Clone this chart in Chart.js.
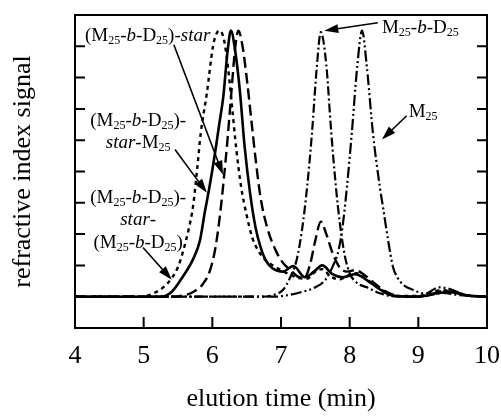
<!DOCTYPE html>
<html>
<head>
<meta charset="utf-8">
<script src="https://cdn.jsdelivr.net/npm/chart.js@4/dist/chart.umd.min.js"></script>
<style>
    body { margin: 0; background: #fff; }
    canvas { display: block; }
</style>
</head>
<body>
<canvas id="gpcChart" width="501" height="419"></canvas>
<script>
// elution time (min) and refractive index signal for each trace

// (M25-b-D25)-star  (dashed)
const starTime   = [4.0, 5.4, 5.6, 5.72, 5.86, 5.96, 6.04, 6.1, 6.16, 6.22, 6.28, 6.33, 6.38, 6.44, 6.5, 6.57, 6.63, 6.7, 6.8, 6.94, 7.04, 7.14, 7.24, 7.34, 7.42, 7.5, 7.58, 7.66, 7.75, 7.85, 7.96, 8.08, 8.2, 8.35, 8.5, 8.65, 8.9, 9.15, 9.35, 9.5, 9.75, 10.0];
const starSignal = [0, 0, 0.05, 0.15, 0.4, 0.8, 1.5, 2.4, 3.6, 5.0, 6.6, 7.9, 8.5, 8.0, 7.0, 5.6, 4.4, 3.2, 2.2, 1.4, 1.05, 0.85, 0.65, 0.6, 1.0, 1.8, 2.4, 2.0, 1.4, 0.95, 0.8, 0.85, 0.72, 0.45, 0.2, 0.05, 0, 0.05, 0.18, 0.15, 0.03, 0];

// (M25-b-D25)-star-M25  (solid)
const starMTime   = [4.0, 5.25, 5.41, 5.57, 5.72, 5.82, 5.89, 5.95, 6.04, 6.1, 6.16, 6.22, 6.27, 6.33, 6.4, 6.47, 6.55, 6.63, 6.7, 6.78, 6.88, 7.03, 7.18, 7.35, 7.48, 7.6, 7.75, 7.9, 8.08, 8.3, 8.5, 8.65, 9.0, 9.25, 9.45, 9.7, 10.0];
const starMSignal = [0, 0, 0.16, 0.64, 1.2, 1.8, 2.7, 3.4, 4.6, 5.5, 6.4, 7.8, 8.5, 7.9, 6.6, 4.8, 3.3, 2.2, 1.6, 1.15, 0.9, 0.8, 0.98, 0.62, 0.8, 1.0, 0.72, 0.62, 0.72, 0.45, 0.15, 0.03, 0, 0.1, 0.15, 0.04, 0];

// (M25-b-D25)-star-(M25-b-D25)  (dotted)
const starBDTime   = [4.0, 4.95, 5.09, 5.28, 5.41, 5.5, 5.58, 5.66, 5.72, 5.78, 5.83, 5.92, 6.01, 6.06, 6.11, 6.17, 6.23, 6.29, 6.35, 6.42, 6.5, 6.58, 6.66, 6.76, 6.88, 7.0, 7.12, 7.25, 7.38, 7.5, 7.6, 7.72, 7.85, 7.98, 8.1, 8.22, 8.38, 8.55, 8.75, 9.1, 9.3, 9.45, 9.7, 10.0];
const starBDSignal = [0, 0, 0.06, 0.29, 0.6, 0.95, 1.5, 2.2, 2.9, 4.1, 5.2, 6.5, 8.0, 8.4, 8.5, 8.2, 7.3, 6.0, 4.7, 3.5, 2.6, 1.9, 1.5, 1.2, 1.0, 0.85, 0.72, 0.6, 0.58, 0.8, 0.88, 0.65, 0.55, 0.68, 0.75, 0.6, 0.35, 0.12, 0.02, 0.05, 0.2, 0.2, 0.05, 0];

// M25-b-D25  (dash-dot)
const bdTime   = [4.0, 6.7, 6.9, 7.03, 7.13, 7.23, 7.31, 7.38, 7.45, 7.52, 7.58, 7.66, 7.73, 7.8, 7.86, 7.93, 8.0, 8.1, 8.25, 8.45, 8.7, 9.1, 9.35, 9.6, 10.0];
const bdSignal = [0, 0, 0.06, 0.22, 0.6, 1.2, 2.2, 3.5, 5.2, 7.3, 8.45, 7.4, 5.3, 3.5, 2.3, 1.3, 0.75, 0.45, 0.3, 0.1, 0, 0.02, 0.12, 0.05, 0];

// M25  (dash-dot-dot)
const mTime   = [4.0, 6.9, 7.1, 7.3, 7.5, 7.65, 7.76, 7.84, 7.9, 7.96, 8.03, 8.11, 8.18, 8.25, 8.34, 8.44, 8.49, 8.56, 8.63, 8.7, 8.78, 8.92, 9.1, 9.3, 9.45, 9.7, 10.0];
const mSignal = [0, 0, 0.05, 0.15, 0.3, 0.55, 1.0, 1.5, 2.3, 3.5, 5.2, 7.35, 8.5, 7.35, 5.2, 3.5, 2.8, 1.8, 0.96, 0.6, 0.38, 0.22, 0.1, 0.3, 0.25, 0.05, 0];

// axis range
const xMin = 4, xMax = 10;
const yMin = -1, yMax = 9;
const xTitle = 'elution time (min)';
const yTitle = 'refractive index signal';

const serif = '"Liberation Serif", "Times New Roman", serif';

function toPoints(times, values) {
    return times.map((t, i) => ({ x: t, y: values[i] }));
}

// rich text pieces for the labels
const sub = t => ({ t: t, sub: true });
const it = t => ({ t: t, it: true });
const MbD = [{ t: '(M' }, sub('25'), { t: '-' }, it('b'), { t: '-D' }, sub('25'), { t: ')' }];

// label positions in data units (time, signal)
const labels = [
    { parts: [...MbD, { t: '-' }, it('star')], x: 4.146, y: 8.34, align: 'left' },
    { parts: [...MbD, { t: '-' }], x: 4.92, y: 5.62, align: 'center' },
    { parts: [it('star'), { t: '-M' }, sub('25')], x: 4.92, y: 4.92, align: 'center' },
    { parts: [...MbD, { t: '-' }], x: 4.92, y: 3.16, align: 'center' },
    { parts: [it('star'), { t: '-' }], x: 4.92, y: 2.46, align: 'center' },
    { parts: MbD, x: 4.92, y: 1.73, align: 'center' },
    { parts: [{ t: 'M' }, sub('25'), { t: '-' }, it('b'), { t: '-D' }, sub('25')], x: 8.47, y: 8.6, align: 'left' },
    { parts: [{ t: 'M' }, sub('25')], x: 8.86, y: 5.9, align: 'left' }
];

// arrows: from (x1, y1) to tip (x2, y2), data units
const arrows = [
    [5.44, 8.05, 6.155, 3.9],
    [5.456, 4.70, 5.92, 3.32],
    [4.99, 1.57, 5.41, 0.54],
    [8.41, 8.75, 7.63, 8.5],
    [8.83, 5.78, 8.47, 5.02]
];

function partFont(p) {
    if (p.sub) return '12px ' + serif;
    return (p.it ? 'italic ' : '') + '19px ' + serif;
}

function drawRich(ctx, parts, x, y, align) {
    let w = 0;
    parts.forEach(p => { ctx.font = partFont(p); w += ctx.measureText(p.t).width; });
    let cx = align === 'center' ? x - w / 2 : x;
    ctx.textBaseline = 'middle';
    ctx.textAlign = 'left';
    parts.forEach(p => {
        ctx.font = partFont(p);
        ctx.fillText(p.t, cx, y + (p.sub ? 5 : 0));
        cx += ctx.measureText(p.t).width;
    });
}

function drawArrow(ctx, x1, y1, x2, y2) {
    const a = Math.atan2(y2 - y1, x2 - x1);
    const len = 14, half = 4.5;
    ctx.beginPath();
    ctx.moveTo(x1, y1);
    ctx.lineTo(x2 - Math.cos(a) * len * 0.7, y2 - Math.sin(a) * len * 0.7);
    ctx.stroke();
    ctx.beginPath();
    ctx.moveTo(x2, y2);
    ctx.lineTo(x2 - len * Math.cos(a) + half * Math.sin(a), y2 - len * Math.sin(a) - half * Math.cos(a));
    ctx.lineTo(x2 - len * Math.cos(a) - half * Math.sin(a), y2 - len * Math.sin(a) + half * Math.cos(a));
    ctx.closePath();
    ctx.fill();
}

// frame, inward ticks, labels and arrows
const framePlugin = {
    id: 'frame',
    afterDraw(chart) {
        const ctx = chart.ctx;
        const area = chart.chartArea;
        const xs = chart.scales.x;
        const ys = chart.scales.y;
        ctx.save();
        ctx.strokeStyle = '#000';
        ctx.fillStyle = '#000';
        ctx.lineWidth = 2;
        ctx.strokeRect(area.left, area.top, area.right - area.left, area.bottom - area.top);

        ctx.beginPath();
        xs.ticks.forEach(t => {
            if (t.value <= xMin || t.value >= xMax) return;
            const px = xs.getPixelForValue(t.value);
            ctx.moveTo(px, area.bottom);
            ctx.lineTo(px, area.bottom - 11);
        });
        ys.ticks.forEach(t => {
            if (t.value <= 0 || t.value >= yMax) return;
            const py = ys.getPixelForValue(t.value);
            ctx.moveTo(area.left, py);
            ctx.lineTo(area.left + 10, py);
            ctx.moveTo(area.right, py);
            ctx.lineTo(area.right - 10, py);
        });
        ctx.stroke();

        labels.forEach(l => {
            drawRich(ctx, l.parts, xs.getPixelForValue(l.x), ys.getPixelForValue(l.y), l.align);
        });

        ctx.lineWidth = 1.6;
        arrows.forEach(a => {
            drawArrow(ctx, xs.getPixelForValue(a[0]), ys.getPixelForValue(a[1]),
                xs.getPixelForValue(a[2]), ys.getPixelForValue(a[3]));
        });
        ctx.restore();
    }
};

function trace(times, values, dash, width) {
    return {
        data: toPoints(times, values),
        borderColor: '#000',
        borderWidth: width,
        borderDash: dash,
        pointRadius: 0,
        fill: false,
        cubicInterpolationMode: 'monotone'
    };
}

const ctx = document.getElementById('gpcChart').getContext('2d');
const chart = new Chart(ctx, {
    type: 'line',
    data: {
        datasets: [
            trace(mTime, mSignal, [11, 3, 2, 3, 2, 3], 2.2),
            trace(bdTime, bdSignal, [9, 3, 2, 3], 2.2),
            trace(starBDTime, starBDSignal, [4, 4], 2.4),
            trace(starTime, starSignal, [11, 5], 2.4),
            trace(starMTime, starMSignal, [], 2.6)
        ]
    },
    options: {
        responsive: false,
        animation: false,
        layout: { padding: { left: 0, right: 14, top: 15, bottom: 0 } },
        plugins: {
            legend: { display: false },
            tooltip: { enabled: false }
        },
        scales: {
            x: {
                type: 'linear',
                min: xMin,
                max: xMax,
                afterFit(scale) {
                    scale.height = 91;
                    scale.paddingLeft = 0;
                    scale.paddingRight = 0;
                },
                ticks: {
                    stepSize: 1,
                    color: '#000',
                    maxRotation: 0,
                    padding: 13,
                    font: { family: serif, size: 26 }
                },
                grid: { display: false, drawTicks: false },
                border: { display: false },
                title: {
                    display: true,
                    text: xTitle,
                    color: '#000',
                    font: { family: serif, size: 26 },
                    padding: { top: 0, bottom: 4 }
                }
            },
            y: {
                type: 'linear',
                min: yMin,
                max: yMax,
                afterFit(scale) {
                    scale.width = 75;
                },
                ticks: { stepSize: 1, display: false },
                grid: { display: false, drawTicks: false },
                border: { display: false },
                title: {
                    display: true,
                    text: yTitle,
                    color: '#000',
                    font: { family: serif, size: 26 },
                    padding: { top: 8, bottom: 0 }
                }
            }
        }
    },
    plugins: [framePlugin]
});
</script>
</body>
</html>
